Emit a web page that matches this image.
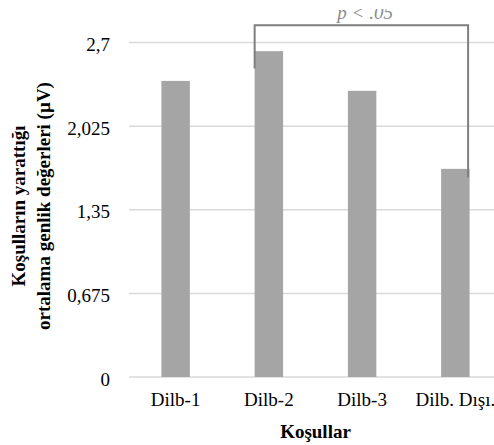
<!DOCTYPE html>
<html>
<head>
<meta charset="utf-8">
<script src="https://cdn.jsdelivr.net/npm/d3@7"></script>
<style>
  body { margin: 0; background: #fff; }
  svg { display: block; font-family: "Liberation Serif", "Times New Roman", serif; }
</style>
</head>
<body>
<div class="bar-chart"></div>
<script>
const categories = ["Dilb-1", "Dilb-2", "Dilb-3", "Dilb. Dışı."];
const values = [2.39, 2.63, 2.31, 1.68];
const yTicks = [0, 0.675, 1.35, 2.025, 2.7];
const yTitleLines = ["Koşulların yarattığı", "ortalama genlik değerleri (µV)"];
const xTitle = "Koşullar";
// significance bracket: from / to category, heights in data units
const bracketFrom = "Dilb-2";
const bracketTo = "Dilb. Dışı.";
const bracketLevels = [2.49, 2.84, 1.61]; // left end, top, right end
const bracketLabel = "p < .05";

const width = 494;
const height = 445;
const margin = { top: 42.5, right: -8, bottom: 68, left: 129 };

const svg = d3
  .select(".bar-chart")
  .append("svg")
  .attr("width", width)
  .attr("height", height);

const xScale = d3
  .scaleBand()
  .domain(categories)
  .range([margin.left, width - margin.right])
  .paddingInner(0.695)
  .paddingOuter(0.3475);

const yScale = d3
  .scaleLinear()
  .domain([0, 2.7])
  .range([height - margin.bottom, margin.top]);

const fmt = (d) => String(d).replace(".", ",");

// gridlines
svg.append("g")
  .selectAll("line")
  .data(yTicks)
  .join("line")
  .attr("x1", margin.left)
  .attr("x2", width - margin.right)
  .attr("y1", (d) => yScale(d))
  .attr("y2", (d) => yScale(d))
  .attr("stroke", "#d9d9d9")
  .attr("stroke-width", 1.5);

// y tick labels
svg.append("g")
  .selectAll("text")
  .data(yTicks)
  .join("text")
  .attr("x", 110)
  .attr("y", (d) => yScale(d))
  .attr("dy", "0.46em")
  .attr("text-anchor", "end")
  .style("font-size", "19px")
  .attr("fill", "#000")
  .text(fmt);

// bars
svg.append("g")
  .selectAll("rect")
  .data(values)
  .join("rect")
  .attr("x", (d, i) => xScale(categories[i]))
  .attr("y", (d) => yScale(d))
  .attr("width", xScale.bandwidth())
  .attr("height", (d) => yScale(0) - yScale(d))
  .attr("fill", "#a5a5a5");

// x category labels
svg.append("g")
  .selectAll("text")
  .data(categories)
  .join("text")
  .attr("x", (d) => xScale(d) + xScale.bandwidth() / 2)
  .attr("y", yScale(0) + 29)
  .attr("text-anchor", "middle")
  .style("font-size", "19px")
  .attr("fill", "#000")
  .text((d) => d);

// x axis title
svg.append("text")
  .attr("x", (xScale(categories[0]) + xScale(categories[3]) + xScale.bandwidth()) / 2)
  .attr("y", 438)
  .attr("text-anchor", "middle")
  .style("font-size", "19px")
  .style("font-weight", "bold")
  .text(xTitle);

// y axis title
svg.append("g")
  .attr("transform", "translate(0,206) rotate(-90)")
  .selectAll("text")
  .data(yTitleLines)
  .join("text")
  .attr("x", 0)
  .attr("y", (d, i) => 25 + i * 25)
  .attr("text-anchor", "middle")
  .style("font-size", "19px")
  .style("font-weight", "bold")
  .text((d) => d);

// significance bracket
const bx1 = xScale(bracketFrom);
const bx2 = xScale(bracketTo) + xScale.bandwidth() - 1.5;
const bracket = d3.path();
bracket.moveTo(bx1, yScale(bracketLevels[0]));
bracket.lineTo(bx1, yScale(bracketLevels[1]));
bracket.lineTo(bx2, yScale(bracketLevels[1]));
bracket.lineTo(bx2, yScale(bracketLevels[2]));

svg.append("path")
  .attr("d", bracket.toString())
  .attr("fill", "none")
  .attr("stroke", "#7f7f7f")
  .attr("stroke-width", 2);

// the label is cropped at the top edge in the original figure
svg.append("clipPath")
  .attr("id", "label-clip")
  .append("rect")
  .attr("x", 0)
  .attr("y", 9)
  .attr("width", width)
  .attr("height", 30);

svg.append("text")
  .attr("x", (xScale(bracketFrom) + xScale.bandwidth() + xScale(bracketTo)) / 2 + 3)
  .attr("y", 19)
  .attr("clip-path", "url(#label-clip)")
  .attr("text-anchor", "middle")
  .style("font-size", "19px")
  .style("font-style", "italic")
  .attr("fill", "#8c8c8c")
  .text(bracketLabel);
</script>
</body>
</html>
